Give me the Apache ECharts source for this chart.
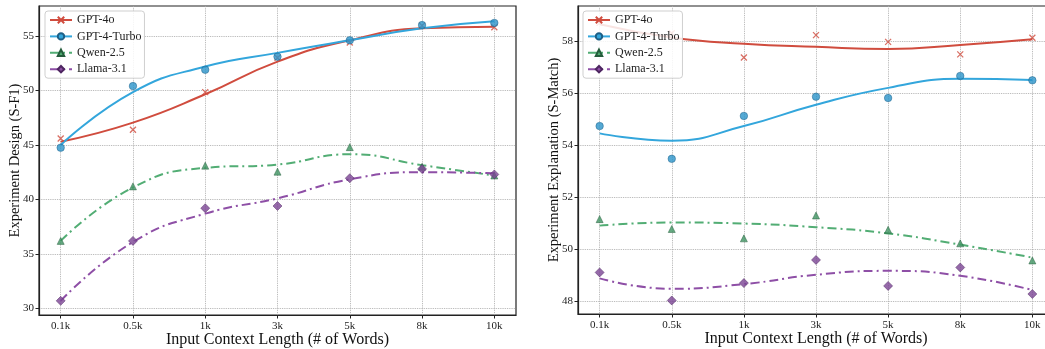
<!DOCTYPE html>
<html>
<head>
<meta charset="utf-8">
<script src="https://cdn.jsdelivr.net/npm/echarts@6/dist/echarts.min.js"></script>
<style>
  html, body { margin: 0; padding: 0; background: #fff; }
  #chart { width: 1045px; height: 349px; }
</style>
</head>
<body>
<div id="chart"></div>
<script>
// x categories (context length)
var categories = ['0.1k', '0.5k', '1k', '3k', '5k', '8k', '10k'];
var modelNames = ['GPT-4o', 'GPT-4-Turbo', 'Qwen-2.5', 'Llama-3.1'];

// left panel: Experiment Design (S-F1), measured points
var designGpt4o = [45.6, 46.4, 49.85, 53.0, 54.4, 55.95, 55.8];
var designTurbo = [44.75, 50.4, 51.9, 53.1, 54.6, 56.0, 56.2];
var designQwen = [36.2, 41.2, 43.1, 42.55, 44.8, 43.0, 42.2];
var designLlama = [30.7, 36.2, 39.2, 39.4, 41.95, 42.8, 42.3];
// left panel fitted curves (read at each tick)
var designGpt4oFit = [45.3, 47.05, 49.65, 52.65, 54.6, 55.7, 55.85];
var designTurboFit = [45.0, 49.85, 52.2, 53.45, 54.6, 55.7, 56.35];
var designQwenFit = [36.2, 41.1, 42.9, 43.2, 44.15, 43.15, 42.2];
var designLlamaFit = [30.7, 36.1, 38.7, 40.1, 41.85, 42.5, 42.4];

// right panel: Experiment Explanation (S-Match), measured points
var explainGpt4o = [58.7, 58.3, 57.37, 58.23, 57.97, 57.49, 58.13];
var explainTurbo = [54.73, 53.47, 55.12, 55.86, 55.81, 56.66, 56.49];
var explainQwen = [51.15, 50.77, 50.41, 51.29, 50.74, 50.22, 49.56];
var explainLlama = [49.1, 48.02, 48.69, 49.58, 48.58, 49.29, 48.27];
// right panel fitted curves
var explainGpt4oFit = [58.65, 58.14, 57.9, 57.78, 57.7, 57.85, 58.07];
var explainTurboFit = [54.45, 54.17, 54.73, 55.55, 56.2, 56.55, 56.5];
var explainQwenFit = [50.9, 51.02, 50.98, 50.84, 50.6, 50.17, 49.67];
var explainLlamaFit = [48.87, 48.47, 48.65, 49.01, 49.16, 48.97, 48.42];

var designTicks = [30, 35, 40, 45, 50, 55];
var explainTicks = [48, 50, 52, 54, 56, 58];

var FONT = 'Liberation Serif';
var lineColors = ['#d04c3e', '#33a6dc', '#52ad74', '#8e4fa6'];
var markerFill = ['transparent', '#2b93c9', '#3f9461', '#7b4394'];
var markerEdge = ['#d04c3e', '#1d5f86', '#245c3b', '#4d2560'];
var symbols = ['path://M0,0L10,10M10,0L0,10', 'circle', 'triangle', 'diamond'];
var symbolSizes = [6, 7.5, 7, 9];
var dashDot = [9, 4, 2, 4];

function pairs(values){
  var out = [];
  for(var i = 0; i < values.length; i++){
    out.push([i, values[i]]);
  }
  return out;
}

function xAxisFor(idx){
  var ticks = categories.map(function(c, i){ return i; });
  return {
    type: 'value', gridIndex: idx, min: -0.3, max: 6.3,
    name: 'Input Context Length (# of Words)',
    nameLocation: 'middle', nameGap: 17, nameMoveOverlap: false,
    nameTextStyle: { fontFamily: FONT, fontSize: 16, color: '#111', verticalAlign: 'top' },
    axisLine: { show: true, onZero: false, lineStyle: { color: '#222', width: 1.2 } },
    axisTick: { show: true, customValues: ticks, length: 3.5, lineStyle: { color: '#222' } },
    axisLabel: {
      customValues: ticks, fontFamily: FONT, fontSize: 11, color: '#222', margin: 6,
      formatter: function(v){ return categories[Math.round(v)]; }
    },
    splitLine: { show: true, lineStyle: { type: 'dotted', color: '#aaa', width: 0.9 } }
  };
}

function yAxisFor(idx, name, min, max, ticks){
  return {
    type: 'value', gridIndex: idx, min: min, max: max,
    name: name, nameLocation: 'middle', nameGap: 16.5, nameMoveOverlap: false,
    nameTextStyle: { fontFamily: FONT, fontSize: 14.5, color: '#111' },
    axisLine: { show: true, onZero: false, lineStyle: { color: '#222', width: 1.2 } },
    axisTick: { show: true, customValues: ticks, length: 3.5, lineStyle: { color: '#222' } },
    axisLabel: { customValues: ticks, fontFamily: FONT, fontSize: 11, color: '#222', margin: 5 },
    splitLine: { show: true, lineStyle: { type: 'dotted', color: '#aaa', width: 0.9 } }
  };
}

function panelSeries(idx, fits, points){
  var list = [];
  var i;
  // smooth fitted curves first so the legend icon uses the line style
  for(i = 0; i < modelNames.length; i++){
    list.push({
      name: modelNames[i], type: 'line', xAxisIndex: idx, yAxisIndex: idx,
      data: pairs(fits[i]), smooth: 0.5, showSymbol: false,
      symbol: symbols[i], symbolSize: symbolSizes[i],
      itemStyle: { color: lineColors[i], borderColor: markerEdge[i], borderWidth: i == 0 ? 1.3 : 0.6 },
      lineStyle: { color: lineColors[i], width: 2, type: i < 2 ? 'solid' : dashDot },
      z: 2, silent: true
    });
  }
  for(i = 0; i < modelNames.length; i++){
    list.push({
      name: modelNames[i], type: 'scatter', xAxisIndex: idx, yAxisIndex: idx,
      data: pairs(points[i]), symbol: symbols[i], symbolSize: symbolSizes[i],
      itemStyle: { color: markerFill[i], borderColor: markerEdge[i], borderWidth: i == 0 ? 1.3 : 0.6 },
      z: 3, silent: true
    });
  }
  return list;
}

function legendFor(left){
  return {
    left: left, top: 11, orient: 'vertical',
    data: modelNames,
    itemWidth: 22, itemHeight: 8, itemGap: 4.4,
    padding: [3, 3, 3, 4],
    backgroundColor: 'rgba(255,255,255,0.85)',
    borderColor: '#cfcfcf', borderWidth: 1, borderRadius: 3,
    textStyle: { fontFamily: FONT, fontSize: 12, color: '#222' },
    selectedMode: false
  };
}

var chart = echarts.init(document.getElementById('chart'), null, { renderer: 'canvas' });

var option = {
  animation: false,
  backgroundColor: '#fff',
  grid: [
    { left: 39, right: 529, top: 6, bottom: 34, outerBoundsMode: 'none',
      show: true, borderColor: '#222', borderWidth: 1.2 },
    { left: 578, right: -9, top: 6, bottom: 35, outerBoundsMode: 'none',
      show: true, borderColor: '#222', borderWidth: 1.2 }
  ],
  legend: [legendFor(45), legendFor(583)],
  xAxis: [xAxisFor(0), xAxisFor(1)],
  yAxis: [
    yAxisFor(0, 'Experiment Design (S-F1)', 29.4, 57.75, designTicks),
    yAxisFor(1, 'Experiment Explanation (S-Match)', 47.5, 59.35, explainTicks)
  ],
  series: panelSeries(0,
      [designGpt4oFit, designTurboFit, designQwenFit, designLlamaFit],
      [designGpt4o, designTurbo, designQwen, designLlama])
    .concat(panelSeries(1,
      [explainGpt4oFit, explainTurboFit, explainQwenFit, explainLlamaFit],
      [explainGpt4o, explainTurbo, explainQwen, explainLlama]))
};

chart.setOption(option);
</script>
</body>
</html>
